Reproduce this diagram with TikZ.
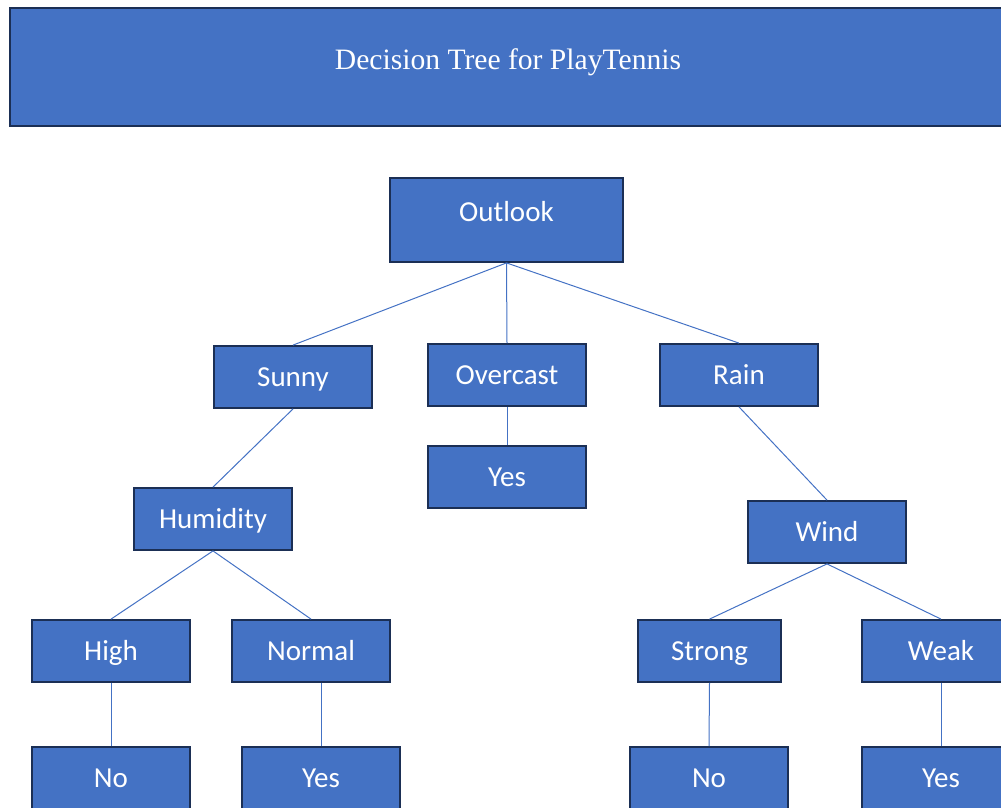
\documentclass[tikz,border=0pt]{standalone}
\usepackage{fontspec}
\setmainfont{Liberation Serif}
\setsansfont{Carlito}
\usetikzlibrary{positioning}
\definecolor{boxfill}{HTML}{4472C4}
\definecolor{boxline}{HTML}{1B2F55}

\begin{document}
\begin{tikzpicture}[
    x=1pt, y=-1pt,
    box/.style={draw=boxline, line width=1.8pt, fill=boxfill, minimum width=158pt, minimum height=62pt, inner sep=0pt, text=white, font=\sffamily\fontsize{29}{32}\selectfont, text height=18.7pt, text depth=0pt},
    link/.style={draw=boxfill, line width=1pt}
]
\useasboundingbox (0,0) rectangle (1001,807);
\clip (0,0) rectangle (1001,807);
\node[box, minimum width=996pt, minimum height=118pt, font=\rmfamily\fontsize{29.6}{32}\selectfont, text height=19.6pt, text depth=14pt] (title) at (508,67) {Decision Tree for PlayTennis};
\node[box, minimum width=233pt, minimum height=84pt, text depth=16pt] (outlook) at (506.5,220) {Outlook};
\node[box] (sunny) at (293,377) {Sunny};
\node[box] (overcast) at (507,375) {Overcast};
\node[box] (rain) at (739,375) {Rain};
\node[box] (yesmid) at (507,477) {Yes};
\node[box] (humidity) at (213,519) {Humidity};
\node[box] (wind) at (827,532) {Wind};
\node[box] (high) at (111,651) {High};
\node[box] (normal) at (311,651) {Normal};
\node[box, minimum width=143pt] (strong) at (709.5,651) {Strong};
\node[box] (weak) at (941,651) {Weak};
\node[box] (nohigh) at (111,778) {No};
\node[box] (yesnormal) at (321,778) {Yes};
\node[box] (nostrong) at (709,778) {No};
\node[box] (yesweak) at (941,778) {Yes};

\draw[link] (outlook.south) -- (sunny.north);
\draw[link] (outlook.south) -- (overcast.north);
\draw[link] (outlook.south) -- (rain.north);
\draw[link] (overcast.south) -- (yesmid.north);
\draw[link] (sunny.south) -- (humidity.north);
\draw[link] (rain.south) -- (wind.north);
\draw[link] (humidity.south) -- (high.north);
\draw[link] (humidity.south) -- (normal.north);
\draw[link] (wind.south) -- (strong.north);
\draw[link] (wind.south) -- (weak.north);
\draw[link] (high.south) -- (nohigh.north);
\draw[link] (normal.south -| yesnormal.north) -- (yesnormal.north);
\draw[link] (strong.south) -- (nostrong.north);
\draw[link] (weak.south) -- (yesweak.north);
\end{tikzpicture}
\end{document}
